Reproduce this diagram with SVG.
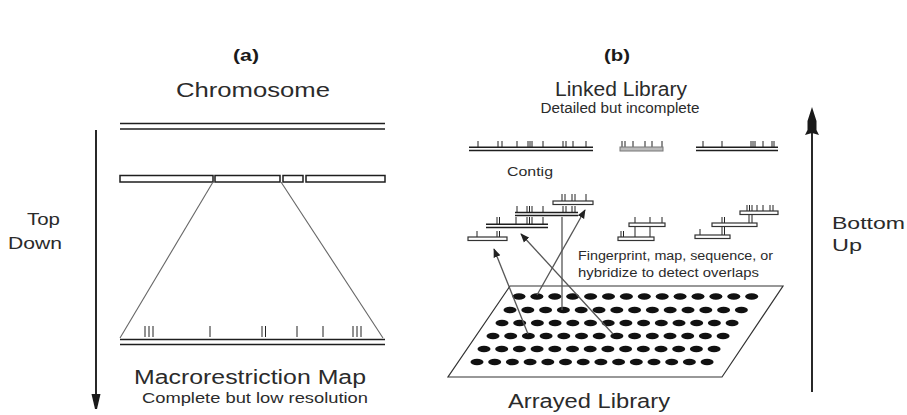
<svg xmlns="http://www.w3.org/2000/svg" width="907" height="415" viewBox="0 0 907 415">
  <style>
    .lbl { font-family: "Liberation Sans", Arial, sans-serif; fill: #2b2b2b; }
    .big { font-size: 20px; }
    .mid { font-size: 17px; }
    .sub { font-size: 14px; }
    .small { font-size: 12.5px; }
    .head { font-size: 17px; font-weight: bold; fill: #1a1a1a; }
    .line { stroke: #1e1e1e; stroke-width: 1.9; fill: none; }
    .thin { stroke: #666; stroke-width: 1.1; fill: none; }
    .tick { stroke: #222; stroke-width: 1; fill: none; }
    .seg { fill: #fff; stroke: #1e1e1e; stroke-width: 1.5; }
    .clone { fill: #fff; stroke: #333; stroke-width: 1.2; }
    .dbl { stroke: #1e1e1e; stroke-width: 1.5; fill: none; }
    .conn { stroke: #555; stroke-width: 1.3; fill: none; }
    .dot { fill: #111; }
  </style>
  <defs>
    <marker id="ah" viewBox="0 0 10 10" refX="9" refY="5" markerWidth="7" markerHeight="7" orient="auto">
      <path d="M0,1 L10,5 L0,9 Z" fill="#222"/>
    </marker>
  </defs>

  <!-- panel headings -->
  <text class="lbl head" x="246" y="61" text-anchor="middle" textLength="26" lengthAdjust="spacingAndGlyphs">(a)</text>
  <text class="lbl head" x="617" y="61" text-anchor="middle" textLength="26" lengthAdjust="spacingAndGlyphs">(b)</text>

  <!-- ===== (a) top-down mapping ===== -->
  <g id="chromosome">
    <text class="lbl big" x="253" y="97" text-anchor="middle" textLength="154" lengthAdjust="spacingAndGlyphs">Chromosome</text>
    <path class="dbl" d="M120,123.5 H385 M120,129 H385"/>
  </g>

  <g id="fragments">
    <rect class="seg" x="120" y="175.5" width="93" height="6.5"/>
    <rect class="seg" x="215" y="175.5" width="65" height="6.5"/>
    <rect class="seg" x="283" y="175.5" width="20" height="6.5"/>
    <rect class="seg" x="306" y="175.5" width="79" height="6.5"/>
  </g>

  <g id="macrorestriction-map">
    <path class="tick" d="M145,326 V337 M149,326 V337 M153,326 V337 M210,326 V337 M262,326 V337 M265.5,326 V337 M297,326 V337 M323,326 V337 M353,326 V337 M357,326 V337 M361,326 V337"/>
    <path class="dbl" d="M120,339.5 H385 M120,344.5 H385"/>
    <text class="lbl big" x="250" y="384" text-anchor="middle" textLength="232" lengthAdjust="spacingAndGlyphs">Macrorestriction Map</text>
    <text class="lbl sub" x="255" y="403" text-anchor="middle" textLength="226" lengthAdjust="spacingAndGlyphs">Complete but low resolution</text>
  </g>

  <g id="top-down">
    <path class="line" d="M96,130 V396"/>
    <polygon points="91.5,394 100.5,394 97,409 95,409" fill="#1a1a1a"/>
    <text class="lbl mid" x="27" y="225" textLength="33" lengthAdjust="spacingAndGlyphs">Top</text>
    <text class="lbl mid" x="8" y="249" textLength="54" lengthAdjust="spacingAndGlyphs">Down</text>
  </g>

  <!-- ===== (b) bottom-up mapping ===== -->
  <g id="linked-library">
    <text class="lbl big" x="621" y="96" text-anchor="middle" textLength="132" lengthAdjust="spacingAndGlyphs">Linked Library</text>
    <text class="lbl sub" x="620" y="113" text-anchor="middle" textLength="159" lengthAdjust="spacingAndGlyphs">Detailed but incomplete</text>
  </g>

  <g id="contigs">
    <path class="tick" d="M478,141 V147 M498,141 V147 M502,141 V147 M517,141 V147 M528,141 V147 M530,141 V147 M532,141 V147 M543,141 V147 M563,141 V147 M566,141 V147 M573,141 V147 M586,141 V147"/>
    <path class="dbl" d="M469,147.3 H593 M469,150.5 H593"/>
    <path class="tick" d="M622,141 V147 M625,141 V147 M633,141 V147 M645,141 V147 M652,141 V147 M662,141 V147"/>
    <rect x="620" y="147" width="43" height="4" fill="#bbb" stroke="#777" stroke-width="1"/>
    <path class="tick" d="M703,141 V147 M722,141 V147 M751,141 V147 M753,141 V147 M755,141 V147 M763,141 V147 M772,141 V147 M774,141 V147"/>
    <path class="dbl" d="M696,147.3 H778 M696,150.5 H778"/>
    <text class="lbl small" x="507" y="176" textLength="46" lengthAdjust="spacingAndGlyphs">Contig</text>
  </g>

  <g id="clones-left">
    <!-- clone D -->
    <path class="tick" d="M562,194 V201 M565,194 V201 M572,194 V201 M575,194 V201 M586,194 V201"/>
    <rect class="clone" x="553" y="201" width="40" height="3.5"/>
    <!-- clone C -->
    <path class="tick" d="M517,206 V212 M527,206 V212 M529.5,206 V212 M532,206 V212 M543,206 V212 M563,206 V212 M566,206 V212 M572,206 V212 M575,206 V212"/>
    <path class="dbl" d="M515,212.5 H578 M515,215.5 H578"/>
    <!-- clone B -->
    <path class="tick" d="M497,217 V224 M499.5,217 V224 M516,217 V224 M527,217 V224 M529.5,217 V224 M532,217 V224 M543,217 V224"/>
    <path class="dbl" d="M486,224.3 H548 M486,227.5 H548"/>
    <!-- clone A -->
    <path class="tick" d="M477,231 V237 M497,231 V237 M499.5,231 V237"/>
    <rect class="clone" x="468" y="237" width="39" height="3.5"/>
  </g>

  <g id="clones-middle">
    <path class="tick" d="M635,217 V223 M650,217 V223 M662,217 V223"/>
    <rect class="clone" x="629" y="223" width="36" height="3.5"/>
    <path class="tick" d="M621,231 V237 M623.5,231 V237 M635,227 V237 M650,227 V237"/>
    <rect class="clone" x="618" y="237" width="36" height="3.5"/>
  </g>

  <g id="clones-right">
    <path class="tick" d="M747,205 V211 M749.5,205 V211 M752,205 V211 M757,205 V211 M763,205 V211 M770,205 V211 M773,205 V211"/>
    <rect class="clone" x="740" y="211" width="38" height="3.5"/>
    <path class="tick" d="M722,217 V223 M724.5,217 V223 M749,215 V223 M752,215 V223"/>
    <rect class="clone" x="712" y="223" width="45" height="3.5"/>
    <path class="tick" d="M700,229 V235 M722,227 V235 M724.5,227 V235"/>
    <rect class="clone" x="695" y="235" width="35" height="3.5"/>
  </g>

  <g id="overlap-note">
    <text class="lbl small" x="578" y="260" textLength="195" lengthAdjust="spacingAndGlyphs">Fingerprint, map, sequence, or</text>
    <text class="lbl small" x="578" y="277" textLength="181" lengthAdjust="spacingAndGlyphs">hybridize to detect overlaps</text>
  </g>

  <g id="arrayed-library">
    <polygon points="510,286 783,286 722,377 448,377" fill="none" stroke="#333" stroke-width="1.2"/>
    <g class="dot">
      <ellipse cx="519" cy="296.5" rx="6.5" ry="3.3"/><ellipse cx="536.9" cy="296.5" rx="6.5" ry="3.3"/><ellipse cx="554.8" cy="296.5" rx="6.5" ry="3.3"/><ellipse cx="572.7" cy="296.5" rx="6.5" ry="3.3"/><ellipse cx="590.6" cy="296.5" rx="6.5" ry="3.3"/><ellipse cx="608.5" cy="296.5" rx="6.5" ry="3.3"/><ellipse cx="626.4" cy="296.5" rx="6.5" ry="3.3"/><ellipse cx="644.3" cy="296.5" rx="6.5" ry="3.3"/><ellipse cx="662.2" cy="296.5" rx="6.5" ry="3.3"/><ellipse cx="680.1" cy="296.5" rx="6.5" ry="3.3"/><ellipse cx="698" cy="296.5" rx="6.5" ry="3.3"/><ellipse cx="715.9" cy="296.5" rx="6.5" ry="3.3"/><ellipse cx="733.8" cy="296.5" rx="6.5" ry="3.3"/><ellipse cx="751.7" cy="296.5" rx="6.5" ry="3.3"/>
      <ellipse cx="510" cy="310" rx="6.5" ry="3.3"/><ellipse cx="527.8" cy="310" rx="6.5" ry="3.3"/><ellipse cx="545.6" cy="310" rx="6.5" ry="3.3"/><ellipse cx="563.4" cy="310" rx="6.5" ry="3.3"/><ellipse cx="581.2" cy="310" rx="6.5" ry="3.3"/><ellipse cx="599" cy="310" rx="6.5" ry="3.3"/><ellipse cx="616.8" cy="310" rx="6.5" ry="3.3"/><ellipse cx="634.6" cy="310" rx="6.5" ry="3.3"/><ellipse cx="652.4" cy="310" rx="6.5" ry="3.3"/><ellipse cx="670.2" cy="310" rx="6.5" ry="3.3"/><ellipse cx="688" cy="310" rx="6.5" ry="3.3"/><ellipse cx="705.8" cy="310" rx="6.5" ry="3.3"/><ellipse cx="723.6" cy="310" rx="6.5" ry="3.3"/><ellipse cx="741.4" cy="310" rx="6.5" ry="3.3"/>
      <ellipse cx="502" cy="323" rx="6.5" ry="3.3"/><ellipse cx="519.7" cy="323" rx="6.5" ry="3.3"/><ellipse cx="537.4" cy="323" rx="6.5" ry="3.3"/><ellipse cx="555.1" cy="323" rx="6.5" ry="3.3"/><ellipse cx="572.8" cy="323" rx="6.5" ry="3.3"/><ellipse cx="590.5" cy="323" rx="6.5" ry="3.3"/><ellipse cx="608.2" cy="323" rx="6.5" ry="3.3"/><ellipse cx="625.9" cy="323" rx="6.5" ry="3.3"/><ellipse cx="643.6" cy="323" rx="6.5" ry="3.3"/><ellipse cx="661.3" cy="323" rx="6.5" ry="3.3"/><ellipse cx="679" cy="323" rx="6.5" ry="3.3"/><ellipse cx="696.7" cy="323" rx="6.5" ry="3.3"/><ellipse cx="714.4" cy="323" rx="6.5" ry="3.3"/><ellipse cx="732.1" cy="323" rx="6.5" ry="3.3"/>
      <ellipse cx="493" cy="336" rx="6.5" ry="3.3"/><ellipse cx="510.7" cy="336" rx="6.5" ry="3.3"/><ellipse cx="528.4" cy="336" rx="6.5" ry="3.3"/><ellipse cx="546.1" cy="336" rx="6.5" ry="3.3"/><ellipse cx="563.8" cy="336" rx="6.5" ry="3.3"/><ellipse cx="581.5" cy="336" rx="6.5" ry="3.3"/><ellipse cx="599.2" cy="336" rx="6.5" ry="3.3"/><ellipse cx="616.9" cy="336" rx="6.5" ry="3.3"/><ellipse cx="634.6" cy="336" rx="6.5" ry="3.3"/><ellipse cx="652.3" cy="336" rx="6.5" ry="3.3"/><ellipse cx="670" cy="336" rx="6.5" ry="3.3"/><ellipse cx="687.7" cy="336" rx="6.5" ry="3.3"/><ellipse cx="705.4" cy="336" rx="6.5" ry="3.3"/><ellipse cx="723.1" cy="336" rx="6.5" ry="3.3"/>
      <ellipse cx="484" cy="349" rx="6.5" ry="3.3"/><ellipse cx="501.7" cy="349" rx="6.5" ry="3.3"/><ellipse cx="519.4" cy="349" rx="6.5" ry="3.3"/><ellipse cx="537.1" cy="349" rx="6.5" ry="3.3"/><ellipse cx="554.8" cy="349" rx="6.5" ry="3.3"/><ellipse cx="572.5" cy="349" rx="6.5" ry="3.3"/><ellipse cx="590.2" cy="349" rx="6.5" ry="3.3"/><ellipse cx="607.9" cy="349" rx="6.5" ry="3.3"/><ellipse cx="625.6" cy="349" rx="6.5" ry="3.3"/><ellipse cx="643.3" cy="349" rx="6.5" ry="3.3"/><ellipse cx="661" cy="349" rx="6.5" ry="3.3"/><ellipse cx="678.7" cy="349" rx="6.5" ry="3.3"/><ellipse cx="696.4" cy="349" rx="6.5" ry="3.3"/><ellipse cx="714.1" cy="349" rx="6.5" ry="3.3"/>
      <ellipse cx="477" cy="362" rx="6.5" ry="3.3"/><ellipse cx="494.7" cy="362" rx="6.5" ry="3.3"/><ellipse cx="512.4" cy="362" rx="6.5" ry="3.3"/><ellipse cx="530.1" cy="362" rx="6.5" ry="3.3"/><ellipse cx="547.8" cy="362" rx="6.5" ry="3.3"/><ellipse cx="565.5" cy="362" rx="6.5" ry="3.3"/><ellipse cx="583.2" cy="362" rx="6.5" ry="3.3"/><ellipse cx="600.9" cy="362" rx="6.5" ry="3.3"/><ellipse cx="618.6" cy="362" rx="6.5" ry="3.3"/><ellipse cx="636.3" cy="362" rx="6.5" ry="3.3"/><ellipse cx="654" cy="362" rx="6.5" ry="3.3"/><ellipse cx="671.7" cy="362" rx="6.5" ry="3.3"/><ellipse cx="689.4" cy="362" rx="6.5" ry="3.3"/><ellipse cx="707.1" cy="362" rx="6.5" ry="3.3"/>
    </g>
    <text class="lbl big" x="589" y="408" text-anchor="middle" textLength="162" lengthAdjust="spacingAndGlyphs">Arrayed Library</text>
  </g>

  <g id="bottom-up">
    <path class="line" d="M812,392 V130"/>
    <polygon points="812,107 816.5,121 816.5,130 819,135 812,133 805,135 807.5,130 807.5,121" fill="#1a1a1a"/>
    <text class="lbl mid" x="832" y="229" textLength="73" lengthAdjust="spacingAndGlyphs">Bottom</text>
    <text class="lbl mid" x="832" y="251" textLength="30" lengthAdjust="spacingAndGlyphs">Up</text>
  </g>

  <!-- connectors -->
  <g id="connectors">
    <path class="thin" d="M213,182 L120,338"/>
    <path class="thin" d="M281,182 L383,338"/>
    <path class="conn" d="M528,334 L494,249" marker-end="url(#ah)"/>
    <path class="conn" d="M613,334 L521,234" marker-end="url(#ah)"/>
    <path class="conn" d="M562,217 V310"/>
    <path class="conn" d="M537,295 L585,210" marker-end="url(#ah)"/>
  </g>
</svg>
